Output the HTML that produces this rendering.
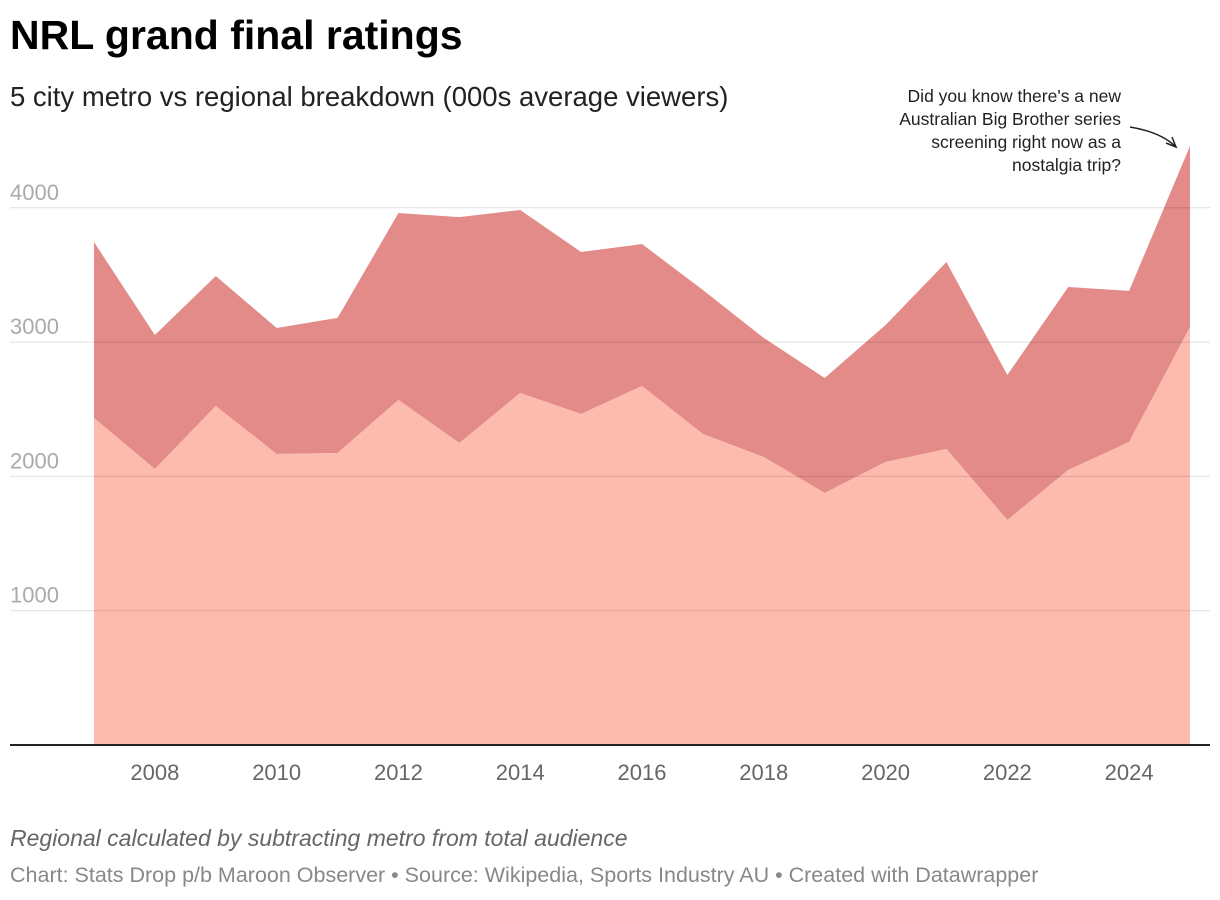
<!DOCTYPE html>
<html><head><meta charset="utf-8"><style>
body{margin:0;background:#fff;font-family:"Liberation Sans",Arial,sans-serif;width:1220px;height:900px;overflow:hidden;position:relative}
.t{position:absolute;left:10px;top:12px;font-size:41px;font-weight:bold;color:#000}
.s{position:absolute;left:10px;top:81px;font-size:27.5px;color:#222}
.n{position:absolute;left:10px;top:825px;font-size:23px;font-style:italic;color:#666}
.f{position:absolute;left:10px;top:863px;font-size:21.5px;color:#888}
svg{position:absolute;left:0;top:0}
</style></head><body>
<svg id="c" width="1220" height="900"></svg>
<div class="t">NRL grand final ratings</div>
<div class="s">5 city metro vs regional breakdown (000s average viewers)</div>
<div class="n">Regional calculated by subtracting metro from total audience</div>
<div class="f">Chart: Stats Drop p/b Maroon Observer • Source: Wikipedia, Sports Industry AU • Created with Datawrapper</div>
<script>
const years=[2007,2008,2009,2010,2011,2012,2013,2014,2015,2016,2017,2018,2019,2020,2021,2022,2023,2024,2025];
const metro=[2435,2055,2524,2167,2174,2569,2249,2621,2465,2673,2316,2144,1876,2107,2204,1675,2048,2256,3112];
const regional=[1310,998,968,938,1006,1392,1682,1363,1206,1057,1072,887,857,1020,1392,1080,1362,1125,1348];
const yTicks=[1000,2000,3000,4000];
const xTicks=[2008,2010,2012,2014,2016,2018,2020,2022,2024];
const NS="http://www.w3.org/2000/svg",svgEl=document.getElementById('c');
const xs=y=>94+(y-2007)*(1190-94)/18;
const yv=v=>745-v*0.1343;
function mk(t,a){const e=document.createElementNS(NS,t);for(const k in a)e.setAttribute(k,a[k]);svgEl.appendChild(e);return e;}
const tot=metro.map((m,i)=>m+regional[i]);
const topPts=years.map((y,i)=>xs(y)+','+yv(tot[i]));
const midPts=years.map((y,i)=>xs(y)+','+yv(metro[i]));
const reg=mk('polygon',{points:topPts.concat(midPts.slice().reverse()).join(' '),fill:'#e28b89'});


const met=mk('polygon',{points:midPts.concat([xs(2025)+','+yv(0),xs(2007)+','+yv(0)]).join(' '),fill:'#fdbbad'});


yTicks.forEach(v=>{
 const l=mk('line',{x1:10,x2:1210,y1:yv(v),y2:yv(v),stroke:'rgba(0,0,0,0.12)','stroke-width':1});
 
 
 const t=mk('text',{x:10,y:yv(v)-8,fill:'#aaa','font-size':22});t.textContent=v;
 
 
});
const ax=mk('line',{x1:10,x2:1210,y1:745,y2:745,stroke:'#222','stroke-width':2});


xTicks.forEach(y=>{
 const t=mk('text',{x:xs(y),y:780,fill:'#666','font-size':22,'text-anchor':'middle'});t.textContent=y;
 
 
});
const ann=["Did you know there's a new","Australian Big Brother series","screening right now as a","nostalgia trip?"];
ann.forEach((s,i)=>{const t=mk('text',{x:1121,y:102+i*23,fill:'#222','font-size':17.5,'text-anchor':'end'});t.textContent=s;
 
 });
const ar=mk('path',{d:'M1130,127 Q1160,132 1175,146 M1166,143 L1176,147 L1172,137',fill:'none',stroke:'#222','stroke-width':1.5});


</script>
</body></html>
